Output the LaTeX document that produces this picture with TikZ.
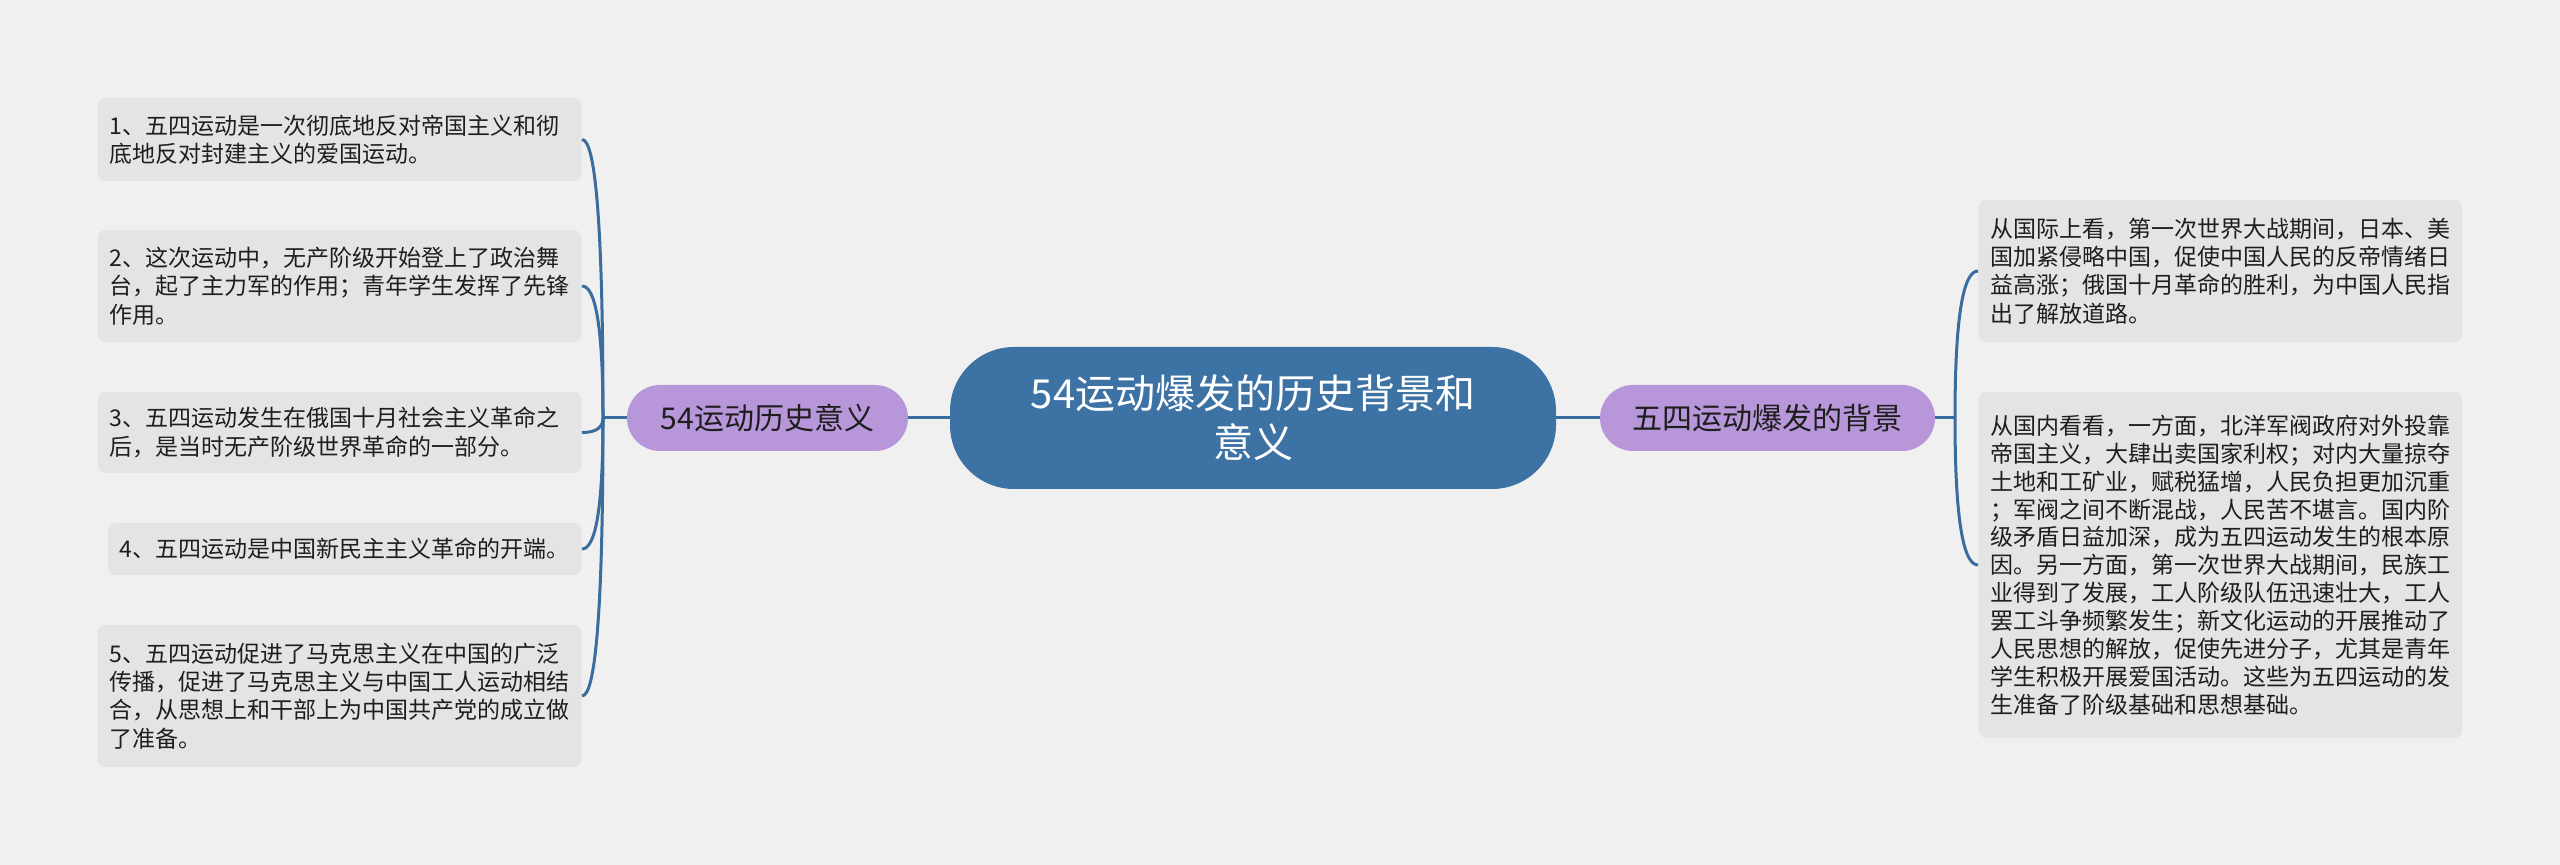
\documentclass[tikz,border=0pt]{standalone}
\usepackage{fontspec}
\setmainfont{Noto Sans CJK SC}
\usetikzlibrary{calc}
\definecolor{cBack}{RGB}{240,240,240}
\definecolor{cCard}{RGB}{228,228,228}
\definecolor{cRoot}{RGB}{61,114,164}
\definecolor{cTopic}{RGB}{183,151,217}
\definecolor{cLink}{RGB}{58,108,158}
\definecolor{cInk}{RGB}{30,30,30}

\begin{document}
\begin{tikzpicture}[x=0.5pt, y=-0.5pt,
  card/.style={fill=cCard, rounded corners=4pt, inner xsep=6pt, inner ysep=3pt,
    align=left, text=cInk, font=\fontsize{11.5}{14.2}\selectfont},
  topic/.style={fill=cTopic, rounded corners=16.5pt, minimum height=33pt,
    text=cInk, font=\fontsize{15}{18}\selectfont},
  link/.style={cLink, line width=1.5pt}]

  % ---- page (1 unit = 1 px of the 2560x865 sheet) ----
  \fill[cBack] (0,0) rectangle (2560,865);
  \useasboundingbox (0,0) rectangle (2560,865);

  % ---- root ----
  \node[fill=cRoot, text=white, rounded corners=32pt, minimum width=303pt,
    minimum height=71pt, align=center, font=\fontsize{20}{24.5}\selectfont]
    (root) at (1253,418) {54运动爆发的历史背景和\\意义};

  % ---- the two topics ----
  \node[topic, minimum width=140.5pt] (sense) at (767.5,418) {54运动历史意义};
  \node[topic, minimum width=167.5pt] (cause) at (1767.5,418) {五四运动爆发的背景};

  % ---- left cards, right edge at x=582 ----
  \node[card, text width=230pt, minimum height=41.5pt, anchor=east] (s1) at (582,139.5)
    {1、五四运动是一次彻底地反对帝国主义和彻\\底地反对封建主义的爱国运动。};
  \node[card, text width=230pt, minimum height=56pt, anchor=east] (s2) at (582,286)
    {2、这次运动中，无产阶级开始登上了政治舞\\台，起了主力军的作用；青年学生发挥了先锋\\作用。};
  \node[card, text width=230pt, minimum height=40.5pt, anchor=east] (s3) at (582,432.5)
    {3、五四运动发生在俄国十月社会主义革命之\\后，是当时无产阶级世界革命的一部分。};
  \node[card, minimum height=26pt, anchor=east] (s4) at (582,549)
    {4、五四运动是中国新民主主义革命的开端。};
  \node[card, text width=230pt, minimum height=71pt, anchor=east] (s5) at (582,696)
    {5、五四运动促进了马克思主义在中国的广泛\\传播，促进了马克思主义与中国工人运动相结\\合，从思想上和干部上为中国共产党的成立做\\了准备。};

  % ---- right cards, left edge at x=1978 ----
  \node[card, text width=230pt, minimum height=71pt, anchor=west] (c1) at (1978,271)
    {从国际上看，第一次世界大战期间，日本、美\\国加紧侵略中国，促使中国人民的反帝情绪日\\益高涨；俄国十月革命的胜利，为中国人民指\\出了解放道路。};
  \node[card, text width=230pt, minimum height=173pt, anchor=west,
    font=\fontsize{11.5}{13.95}\selectfont] (c2) at (1978,565)
    {从国内看看，一方面，北洋军阀政府对外投靠\\帝国主义，大肆出卖国家利权；对内大量掠夺\\土地和工矿业，赋税猛增，人民负担更加沉重\\；军阀之间不断混战，人民苦不堪言。国内阶\\级矛盾日益加深，成为五四运动发生的根本原\\因。另一方面，第一次世界大战期间，民族工\\业得到了发展，工人阶级队伍迅速壮大，工人\\罢工斗争频繁发生；新文化运动的开展推动了\\人民思想的解放，促使先进分子，尤其是青年\\学生积极开展爱国活动。这些为五四运动的发\\生准备了阶级基础和思想基础。};

  % ---- connectors ----
  \coordinate (jl) at (603,418);
  \coordinate (jr) at (1955,418);
  \draw[link] (root.west) -- (sense.east);
  \draw[link] (root.east) -- (cause.west);
  \draw[link] (sense.west) -- (jl);
  \draw[link] (cause.east) -- (jr);
  % brackets: quadratic-like bends from the junction into each card
  \foreach \c in {s1,s2,s3,s4,s5}
    \draw[link] (jl) .. controls ($(jl)!.667!(jl |- \c.east)$)
      and ($(\c.east)!.667!(jl |- \c.east)$) .. (\c.east);
  \foreach \c in {c1,c2}
    \draw[link] (jr) .. controls ($(jr)!.667!(jr |- \c.west)$)
      and ($(\c.west)!.667!(jr |- \c.west)$) .. (\c.west);

\end{tikzpicture}
\end{document}
